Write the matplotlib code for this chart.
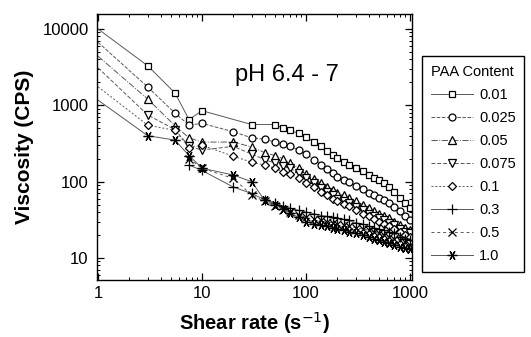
import matplotlib
matplotlib.use("Agg")
import matplotlib.pyplot as plt
from matplotlib.ticker import LogLocator, FuncFormatter, NullFormatter

plt.rcParams['font.family'] = ['Liberation Sans', 'DejaVu Sans']

# PAA content of each series
paa_labels = ['0.01', '0.025', '0.05', '0.075', '0.1', '0.3', '0.5', '1.0']

# shear rate (1/s): low range differs per series, high range shared
x_low_a = [1, 3, 5.5, 7.5, 10, 20, 30, 40, 50, 60, 70, 85]
x_low_sq = [1, 3, 5.5, 7.5, 10, 30, 50, 60, 70, 85]
x_low_b = [7.5, 10, 20, 30, 40, 50, 60, 70, 85]
x_high = [100, 120, 140, 160, 180, 200, 230, 260, 300, 350, 400, 450, 500, 560, 630, 700, 800, 900, 1000]

# viscosity (CPS)
y_001 = [10000, 3300, 1450, 650, 850, 560, 560, 500, 470, 430,
         385, 330, 290, 255, 225, 205, 182, 166, 150, 137, 123, 113, 105, 96, 85, 74, 62, 52, 45]
y_0025 = [6700, 1740, 790, 550, 580, 450, 375, 360, 330, 310, 290, 260,
          230, 195, 165, 145, 128, 115, 106, 99, 88, 80, 72, 67, 62, 57, 52, 47, 41, 35, 31]
y_005 = [4400, 1210, 540, 375, 330, 330, 285, 240, 220, 200, 175, 150,
         125, 108, 96, 86, 78, 72, 66, 62, 55, 50, 45, 41, 38, 35, 33, 30, 27, 25, 23]
y_0075 = [3100, 750, 480, 290, 260, 290, 230, 195, 175, 160, 150, 130,
          110, 95, 83, 74, 67, 60, 56, 52, 46, 42, 38, 35, 33, 31, 29, 27, 24, 22, 21]
y_01 = [1750, 550, 470, 280, 300, 215, 180, 165, 150, 135, 125, 110,
        95, 84, 73, 66, 60, 55, 51, 48, 42, 38, 35, 32, 30, 28, 26, 24, 22, 20, 19]
y_03 = [165, 140, 85, 70, 58, 53, 48, 45, 42,
        40, 38, 36, 35, 34, 33, 32, 31, 29, 28, 26, 25, 24, 23, 22, 21, 19, 18, 17]
y_05 = [200, 150, 110, 67, 55, 48, 43, 40, 37,
        34, 32, 31, 30, 29, 28, 27, 26, 25, 24, 23, 22, 21, 20, 19, 18, 17, 16, 15]
y_10 = [1170, 400, 350, 220, 150, 122, 100, 57, 50, 44, 39, 34,
        30, 28, 27, 26, 25, 24, 23, 22, 21, 20, 19, 18, 17, 16, 15.5, 15, 14, 13.5, 13]

xs = [x_low_sq + x_high, x_low_a + x_high, x_low_a + x_high, x_low_a + x_high,
      x_low_a + x_high, x_low_b + x_high, x_low_b + x_high, x_low_a + x_high]
ys = [y_001, y_0025, y_005, y_0075, y_01, y_03, y_05, y_10]

markers = ['s', 'o', '^', 'v', 'D', '+', 'x', (6, 2, 90)]
msizes = [5, 5, 5.5, 5.5, 4.5, 6.5, 5.5, 7]
styles = ['-', '--', '-.', (0, (4, 2)), (0, (2, 2)), '-', (0, (3, 3)), '-']

fig = plt.figure(figsize=(5.31, 3.37), dpi=100)
ax = fig.add_axes([97 / 531, 1 - 280 / 337, 315 / 531, 266 / 337])

for x, y, lab, m, ms, ls in zip(xs, ys, paa_labels, markers, msizes, styles):
    # the first point of the long runs sits on the y axis without a symbol
    skip = 1 if x[0] == 1 else 0
    ax.plot(x, y, linestyle=ls, color='0.35', linewidth=0.7,
            marker=m, markersize=ms, markerfacecolor='white',
            markeredgecolor='black', markeredgewidth=0.9,
            markevery=slice(skip, None), label=lab)

ax.set_xscale('log')
ax.set_yscale('log')
ax.set_xlim(0.978, 1045)
ax.set_ylim(5.15, 15700)

fmt = FuncFormatter(lambda v, p: '%g' % v)
for axis in (ax.xaxis, ax.yaxis):
    axis.set_major_locator(LogLocator(base=10))
    axis.set_minor_locator(LogLocator(base=10, subs=range(2, 10)))
    axis.set_major_formatter(fmt)
    axis.set_minor_formatter(NullFormatter())

ax.tick_params(which='both', direction='in', top=True, right=True, labelsize=12)
ax.tick_params(which='major', length=5, width=0.9)
ax.tick_params(which='minor', length=2.5, width=0.7)
ax.tick_params(axis='x', pad=4)
ax.tick_params(axis='y', pad=6)
for sp in ax.spines.values():
    sp.set_linewidth(1.0)

ax.set_xlabel('Shear rate (s$^{-1}$)', fontsize=14.5, fontweight='bold', labelpad=7)
ax.set_ylabel('Viscosity (CPS)', fontsize=15, fontweight='bold', labelpad=6)

ax.text(0.438, 0.75, 'pH 6.4 - 7', transform=ax.transAxes, fontsize=17,
        va='baseline', ha='left')

leg = ax.legend(loc='upper left', bbox_to_anchor=(422 / 531, 1 - 56 / 337),
                bbox_transform=fig.transFigure, borderaxespad=0,
                title='PAA Content', fontsize=10.5, title_fontsize=10.5,
                fancybox=False, edgecolor='black', framealpha=1,
                handlelength=2.9, handletextpad=0.4, labelspacing=0.62,
                borderpad=0.6, alignment='left')
leg.get_frame().set_linewidth(1.0)

fig.savefig('out.png', dpi=100)
